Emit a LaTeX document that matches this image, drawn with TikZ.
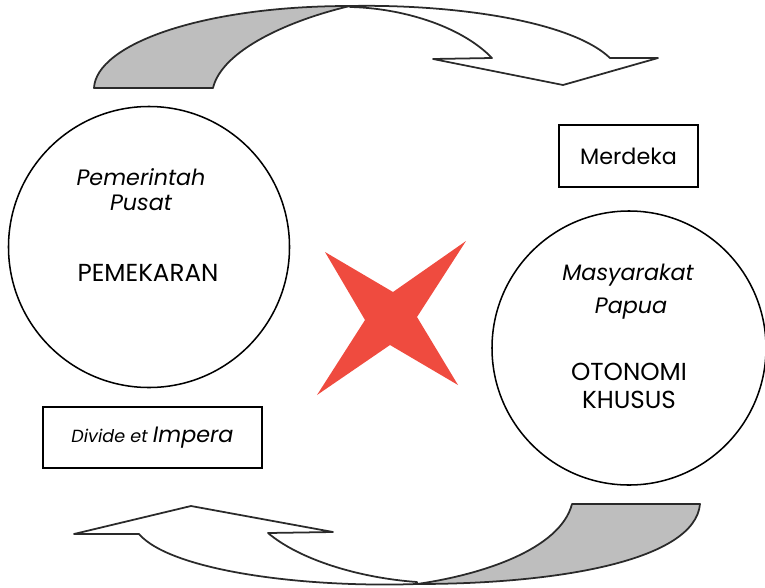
\documentclass[tikz,border=0pt]{standalone}
\usepackage{fontspec}
\setmainfont{Poppins}
\usepackage{xcolor}
\definecolor{crossRed}{HTML}{EF4B3F}
\definecolor{ribbonGray}{HTML}{BEBEBE}
\definecolor{lineDark}{HTML}{2A2A2A}
\usetikzlibrary{positioning}

\begin{document}
\begin{tikzpicture}[
    x=0.03cm, y=-0.03cm,
    roundNode/.style={circle, draw=black, line width=1.3pt, inner sep=0pt},
    boxNode/.style={draw=black, line width=1.4pt, inner sep=0pt},
    actorNode/.style={font=\itshape\fontsize{19}{22}\selectfont, inner sep=1pt},
    policyNode/.style={font=\fontsize{21}{24}\selectfont, align=center, inner sep=1pt},
    ribbon/.style={draw=lineDark, line width=1.5pt, line join=round}
]
\useasboundingbox (0,0) rectangle (765,587);

% Top ribbon arrow
\draw[ribbon, fill=white] (350,6) .. controls (450,4) and (570,20) .. (610,58)
    -- (658,58) -- (563,85) -- (433,59) -- (492,58)
    .. controls (460,25) and (400,8) .. (350,7) -- cycle;
\draw[ribbon, fill=ribbonGray] (94,88) .. controls (96,45) and (200,6) .. (350,6)
    .. controls (290,20) and (222,50) .. (213,88) -- cycle;

% Bottom ribbon arrow
\draw[ribbon, fill=white] (417,584) .. controls (300,588) and (170,570) .. (139,534)
    -- (74,534) -- (191,506) -- (333,532) -- (268,533)
    .. controls (300,560) and (360,578) .. (417,582) -- cycle;
\draw[ribbon, fill=ribbonGray] (572,504) -- (700,504)
    .. controls (695,560) and (560,584) .. (417,584)
    .. controls (480,575) and (560,550) .. (572,504) -- cycle;

% Cross in the middle
\fill[crossRed] (325,252) -- (393,292) -- (466,241) -- (417,317)
    -- (458,385) -- (390,345) -- (317,395) -- (365,320) -- cycle;

% Circles
\node[roundNode, minimum size=8.43cm] (pusat) at (149,247) {};
\node[roundNode, minimum size=8.22cm] (papua) at (629,348) {};

\node[actorNode] (pemerintah) at (141,177) {Pemerintah};
\node[actorNode] (pusatLbl) at (141,203) {Pusat};
\node[policyNode] (pemekaran) at (148,273) {PEMEKARAN};

\node[actorNode] (masyarakat) at (628,275) {Masyarakat};
\node[actorNode] (papuaLbl) at (631,309) {Papua};
\node[policyNode] (otsus) at (629,386) {OTONOMI\\KHUSUS};

% Boxes
\node[boxNode, minimum width=4.17cm, minimum height=1.86cm, font=\fontsize{19}{22}\selectfont] (merdeka) at (628.5,156) {Merdeka};
\node[boxNode, minimum width=6.57cm, minimum height=1.83cm] (divide) at (152.5,437.5)
    {\itshape\fontsize{15}{18}\selectfont Divide et \fontsize{19}{22}\selectfont Impera};

\end{tikzpicture}
\end{document}
